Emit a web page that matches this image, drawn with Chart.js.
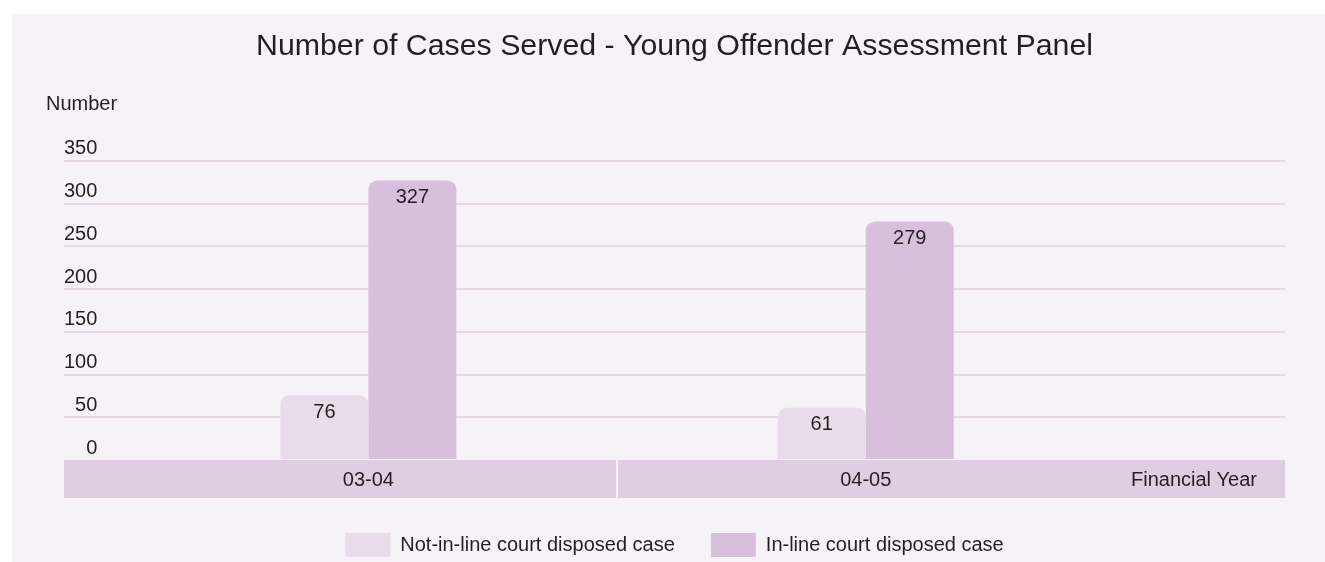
<!DOCTYPE html>
<html>
<head>
<meta charset="utf-8">
<script src="https://cdn.jsdelivr.net/npm/chart.js@4/dist/chart.umd.min.js"></script>
<style>
  html, body { margin: 0; padding: 0; background: #ffffff; overflow: hidden; }
  #c { display: block; }
</style>
</head>
<body>
<canvas id="c" width="1325" height="562"></canvas>
<script>
const chartTitle = 'Number of Cases Served - Young Offender Assessment Panel';
const yAxisTitle = 'Number';
const xAxisTitle = 'Financial Year';
const categories = ['03-04', '04-05'];
const seriesNames = ['Not-in-line court disposed case', 'In-line court disposed case'];
const notInLine = [76, 61];
const inLine = [327, 279];
const yTicks = [0, 50, 100, 150, 200, 250, 300, 350];

const FONT = "'Liberation Sans', Arial, Helvetica, sans-serif";
const TEXT = '#231f20';
const PANEL = '#f6f3f8';
const BAND = '#dfcde1';
const GRID = '#e6d6e8';
const LIGHT = '#e8dcea';
const DARK = '#d8c0dc';

const decor = {
  id: 'decor',
  beforeDraw(chart) {
    const ctx = chart.ctx;
    ctx.save();
    ctx.fillStyle = '#ffffff';
    ctx.fillRect(0, 0, chart.width, chart.height);
    ctx.fillStyle = PANEL;
    ctx.fillRect(12, 14, chart.width - 12, chart.height - 14);
    ctx.restore();
  },
  beforeDatasetsDraw(chart) {
    const ctx = chart.ctx;
    const a = chart.chartArea;
    const xs = chart.scales.x;
    const mid = xs.getPixelForValue((categories.length - 1) / 2);
    ctx.save();
    ctx.fillStyle = BAND;
    ctx.fillRect(a.left, a.bottom, mid - 1 - a.left, 38);
    ctx.fillRect(mid + 1, a.bottom, a.right - mid - 1, 38);
    ctx.restore();
  },
  afterDatasetsDraw(chart) {
    const ctx = chart.ctx;
    const a = chart.chartArea;
    ctx.save();
    ctx.fillStyle = TEXT;
    ctx.font = '20px ' + FONT;
    ctx.textAlign = 'center';
    ctx.textBaseline = 'middle';
    chart.data.datasets.forEach((ds, di) => {
      const meta = chart.getDatasetMeta(di);
      meta.data.forEach((bar, i) => {
        ctx.fillText(String(ds.data[i].y), bar.x, bar.y + 17);
      });
    });
    // y axis title
    ctx.textAlign = 'left';
    ctx.fillText(yAxisTitle, 46, 104);
    // x axis title
    ctx.textAlign = 'right';
    ctx.fillText(xAxisTitle, a.right - 28, a.bottom + 20);
    ctx.restore();
  }
};

new Chart(document.getElementById('c'), {
  type: 'bar',
  data: {
    datasets: [
      {
        label: seriesNames[0],
        data: categories.map((c, i) => ({ x: i, y: notInLine[i] })),
        backgroundColor: LIGHT,
        borderRadius: 9,
        borderSkipped: 'start'
      },
      {
        label: seriesNames[1],
        data: categories.map((c, i) => ({ x: i, y: inLine[i] })),
        backgroundColor: DARK,
        borderRadius: 9,
        borderSkipped: 'start'
      }
    ]
  },
  options: {
    responsive: false,
    devicePixelRatio: 1,
    animation: false,
    categoryPercentage: 0.3538,
    barPercentage: 1,
    layout: { padding: { left: 64, right: 40, top: 0, bottom: -5 } },
    scales: {
      x: {
        type: 'linear',
        offset: false,
        min: -0.612,
        max: 1.843,
        afterBuildTicks: (s) => { s.ticks = categories.map((c, i) => ({ value: i })); },
        afterFit: (s) => { s.height = 37; },
        grid: { display: false, drawTicks: false, offset: false },
        border: { display: false },
        ticks: {
          callback: (v) => categories[v],
          padding: 8,
          font: { family: FONT, size: 20 },
          color: TEXT,
          z: 1,
          maxRotation: 0,
          autoSkip: false
        }
      },
      y: {
        min: 0,
        max: 350,
        afterBuildTicks: (s) => { s.ticks = yTicks.map(v => ({ value: v })); },
        grid: {
          color: (c) => (c.tick && c.tick.value === 0) ? 'rgba(0,0,0,0)' : GRID,
          lineWidth: 2,
          drawTicks: false
        },
        border: { display: false },
        ticks: {
          mirror: true,
          padding: 0,
          crossAlign: 'far',
          labelOffset: -12,
          font: { family: FONT, size: 20 },
          color: TEXT
        }
      }
    },
    plugins: {
      title: {
        display: true,
        text: chartTitle,
        color: TEXT,
        font: { family: FONT, size: 30.3, weight: 'normal' },
        padding: { top: 28, bottom: 96.5 }
      },
      legend: {
        display: true,
        position: 'bottom',
        labels: {
          boxWidth: 45,
          boxHeight: 24,
          padding: 36,
          color: TEXT,
          font: { family: FONT, size: 20 }
        }
      },
      tooltip: { enabled: false }
    }
  },
  plugins: [decor]
});
</script>
</body>
</html>
